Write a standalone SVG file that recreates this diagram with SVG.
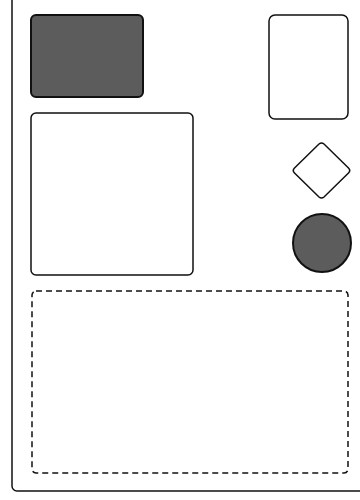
<svg xmlns="http://www.w3.org/2000/svg" width="360" height="500" viewBox="0 0 360 500">
<style>
.s{fill:#fff;stroke:#111;stroke-width:1.5}
.d{fill:#5c5c5c;stroke:#111;stroke-width:2}
</style>
<rect width="360" height="500" fill="#fff"/>
<g id="frame"><rect x="12" y="-20" width="380" height="511" rx="5" fill="none" stroke="#111" stroke-width="1.5"/></g>
<g id="n1"><rect class="d" x="31" y="15" width="112" height="82" rx="5"/></g>
<g id="n2"><rect class="s" x="269" y="15" width="79" height="104" rx="6"/></g>
<g id="n3"><rect class="s" x="31" y="113" width="162" height="162" rx="5"/></g>
<g id="n4"><path class="s" d="M319 144 Q321.5 142 324 144 L348.5 168 Q351 170.5 348.5 173 L324 197 Q321.5 199 319 197 L294.5 173 Q292 170.5 294.5 168 Z"/></g>
<g id="n5"><circle class="d" cx="322" cy="243" r="29"/></g>
<g id="n6"><rect x="32" y="291" width="316" height="182" rx="4" fill="none" stroke="#111" stroke-width="1.5" stroke-dasharray="6 4"/></g>
<g id="connectors"></g>
</svg>
